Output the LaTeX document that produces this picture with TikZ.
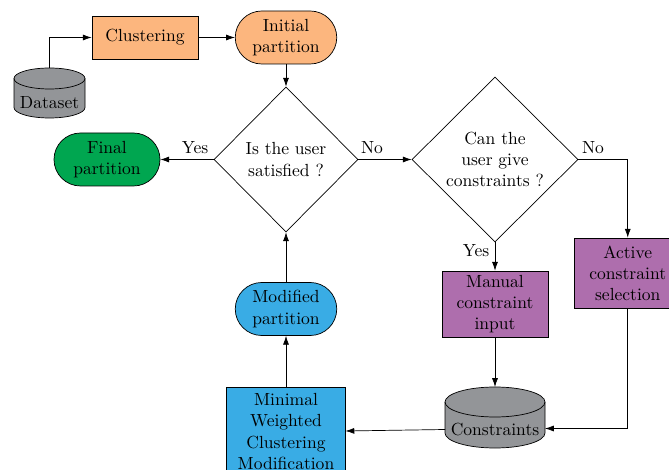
\documentclass[tikz,border=0pt]{standalone}
\usetikzlibrary{shapes.geometric,shapes.misc,arrows.meta,positioning}
\definecolor{peachc}{RGB}{252,182,126}
\definecolor{greenc}{RGB}{0,166,80}
\definecolor{bluec}{RGB}{57,172,229}
\definecolor{purplec}{RGB}{174,110,173}
\definecolor{grayc}{RGB}{147,149,152}
\newdimen\pxu
\pxu=0.57pt
\tikzset{
  x=0.57pt,y=-0.57pt,
  line width=0.65pt,
  boxnode/.style={draw,rectangle,align=center,inner sep=0pt},
  pillnode/.style={draw,rounded rectangle,align=center,inner sep=0pt,minimum width=101.5\pxu,minimum height=53\pxu},
  decnode/.style={draw,diamond,align=center,inner sep=0pt},
  plain/.style={align=center,inner sep=0pt},
  drumanchor/.style={rectangle,inner sep=0pt,outer sep=0pt},
  conn/.style={-{Latex[length=5pt,width=3.4pt]}},
}
\newcommand\drawdrum[3]{%
  \draw[fill=grayc] ([yshift=-#3\pxu]#1.north west) arc[start angle=180,end angle=0,x radius=#2\pxu,y radius=#3\pxu]
     -- ([yshift=#3\pxu]#1.south east) arc[start angle=360,end angle=180,x radius=#2\pxu,y radius=#3\pxu] -- cycle;
  \draw ([yshift=-#3\pxu]#1.north west) arc[start angle=180,end angle=360,x radius=#2\pxu,y radius=#3\pxu];
}
\begin{document}
\begin{tikzpicture}
\useasboundingbox (0,0) rectangle (669,470);
\node[boxnode,fill=peachc,minimum width=106\pxu,minimum height=43\pxu] (clustering) at (145,37.5) {Clustering};
\node[pillnode,fill=peachc] (initial) at (286,37.5) {Initial\\partition};
\node[drumanchor,minimum width=71\pxu,minimum height=50\pxu] (dataset) at (49.5,93) {};
\drawdrum{dataset}{35.5}{10.5}
\node[plain] (datasetlabel) at (49.5,102.5) {Dataset};
\node[decnode,minimum width=144\pxu,minimum height=145\pxu] (satisfied) at (286,159.5) {Is the user\\satisfied ?};
\node[pillnode,fill=greenc,minimum width=106\pxu] (final) at (107,159.5) {Final\\partition};
\node[decnode,minimum width=166\pxu,minimum height=165\pxu] (give) at (495,159.5) {Can the\\user give\\constraints ?};
\node[boxnode,fill=purplec,minimum width=106\pxu,minimum height=66\pxu] (manual) at (495,304) {Manual\\constraint\\input};
\node[boxnode,fill=purplec,minimum width=106.5\pxu,minimum height=70\pxu] (active) at (627.75,273) {Active\\constraint\\selection};
\node[pillnode,fill=bluec] (modified) at (286,309) {Modified\\partition};
\node[boxnode,fill=bluec,minimum width=119\pxu,minimum height=89\pxu] (minimal) at (286,431.5) {Minimal\\Weighted\\Clustering\\Modification};
\node[drumanchor,minimum width=100\pxu,minimum height=61\pxu] (constraints) at (495,417.5) {};
\drawdrum{constraints}{50}{15}
\node[plain] (constraintslabel) at (495,429.5) {Constraints};
\coordinate (constraintsL) at (445,429.5);
\coordinate (constraintsR) at (545,428.5);
\coordinate (minimalR) at (345.5,431);
\draw[conn] (dataset.north) |- (clustering.west);
\draw[conn] (clustering.east) -- (initial.west);
\draw[conn] (initial.south) -- (satisfied.north);
\draw[conn] (satisfied.west) -- (final.east);
\node[plain] (yesa) at (195,148) {Yes};
\draw[conn] (satisfied.east) -- (give.west);
\node[plain] (noa) at (372,148) {No};
\draw[conn] (give.south) -- (manual.north);
\node[plain] (yesb) at (476,250.5) {Yes};
\draw[conn] (give.east) -| (active.north);
\node[plain] (nob) at (593,148) {No};
\draw[conn] (manual.south) -- (constraints.north);
\draw[conn] (active.south) |- (constraintsR);
\draw[conn] (constraintsL) -- (minimalR);
\draw[conn] (minimal.north) -- (modified.south);
\draw[conn] (modified.north) -- (satisfied.south);
\end{tikzpicture}
\end{document}
